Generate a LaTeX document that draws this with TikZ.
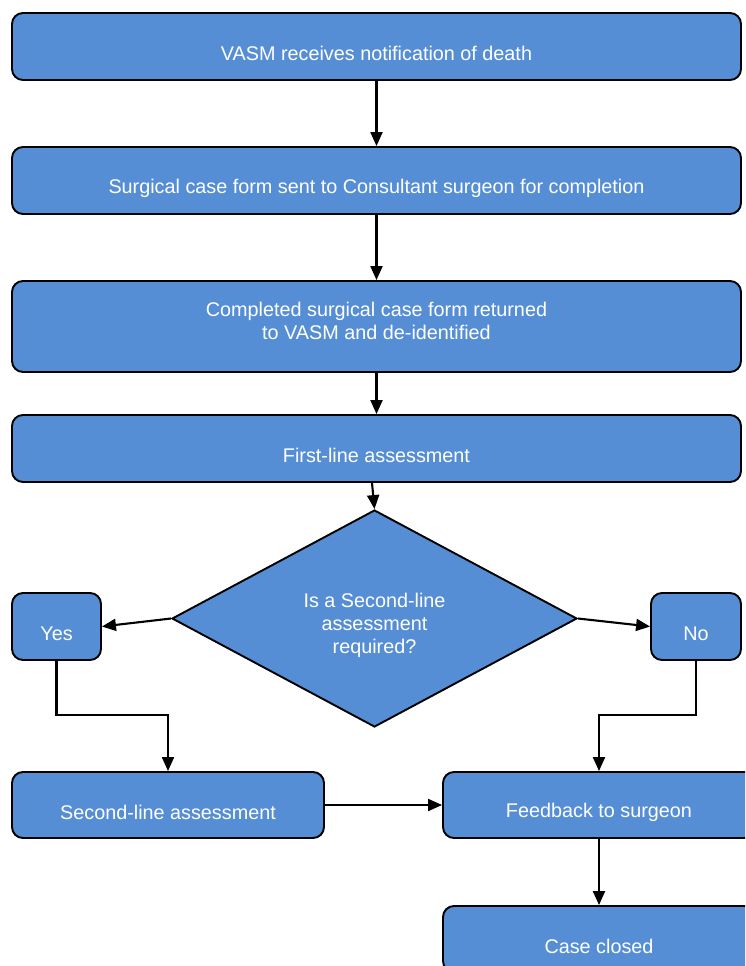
\documentclass[tikz,border=0pt]{standalone}
\usepackage{fontspec}
\setmainfont{Liberation Sans}
\usetikzlibrary{shapes.geometric,arrows.meta}
\definecolor{boxblue}{RGB}{85,142,213}
\tikzset{
  x=1pt, y=-1pt,
  box/.style={draw=black, line width=1.9pt, fill=boxblue, rounded corners=11pt,
    inner sep=0pt},
  dec/.style={draw=black, line width=1.9pt, fill=boxblue, diamond, inner sep=0pt,
    minimum width=405pt, minimum height=217pt, aspect=1.866},
  lbl/.style={text=white, font=\fontsize{19.8}{23}\selectfont, align=center, inner sep=0pt},
  conn/.style={draw=black, line width=2.1pt, -{Triangle[length=14pt,width=12pt]}},
}
\begin{document}
\begin{tikzpicture}
\useasboundingbox (0,0) rectangle (745,966);
\clip (0,0) rectangle (745,966);
% boxes
\node[box, minimum width=729pt, minimum height=67pt] (b1) at (376.5,46.5) {};
\node[box, minimum width=729pt, minimum height=67pt] (b2) at (376.5,180.5) {};
\node[box, minimum width=729pt, minimum height=91pt] (b3) at (376.5,326.5) {};
\node[box, minimum width=729pt, minimum height=67pt] (b4) at (376.5,448.5) {};
\node[dec] (d) at (374.5,618.5) {};
\node[box, minimum width=89pt, minimum height=67pt] (yes) at (56.5,626.5) {};
\node[box, minimum width=90pt, minimum height=67pt] (no) at (696,626.5) {};
\node[box, minimum width=312pt, minimum height=66pt] (sec) at (168,805) {};
\node[box, minimum width=312pt, minimum height=66pt] (fb) at (599,805) {};
\node[box, minimum width=312pt, minimum height=66pt] (cc) at (599,939) {};
% texts
\node[lbl] (t1) at ([yshift=-6.5pt]b1.center) {VASM receives notification of death};
\node[lbl] (t2) at ([yshift=-7.5pt]b2.center) {Surgical case form sent to Consultant surgeon for completion};
\node[lbl] (t3) at ([yshift=6pt]b3.center) {Completed surgical case form returned\\to VASM and de-identified};
\node[lbl] (t4) at ([yshift=-7pt]b4.center) {First-line assessment};
\node[lbl] (td) at ([yshift=-6.5pt]d.center) {Is a Second-line\\assessment\\required?};
\node[lbl] (ty) at ([yshift=-7.5pt]yes.center) {Yes};
\node[lbl] (tn) at ([yshift=-7.5pt]no.center) {No};
\node[lbl] (ts) at ([yshift=-7pt]sec.center) {Second-line assessment};
\node[lbl] (tf) at ([yshift=-7pt]fb.center) {Feedback to surgeon};
\node[lbl] (tc) at ([yshift=-7pt]cc.center) {Case closed};
% connectors
\draw[conn] (b1.south) -- (b2.north);
\draw[conn] (b2.south) -- (b3.north);
\draw[conn] (b3.south) -- (b4.north);
\draw[conn] ([xshift=-4.5pt]b4.south) -- (d.north);
\draw[conn] (d.west) -- (yes.east);
\draw[conn] (d.east) -- (no.west);
\coordinate (ybend) at (56.5,715);
\coordinate (nbend) at (696,715);
\draw[conn] (yes.south) -- (ybend) -| (sec.north);
\draw[conn] (no.south) -- (nbend) -| (fb.north);
\draw[conn] (sec.east) -- (fb.west);
\draw[conn] (fb.south) -- (cc.north);
\end{tikzpicture}
\end{document}
